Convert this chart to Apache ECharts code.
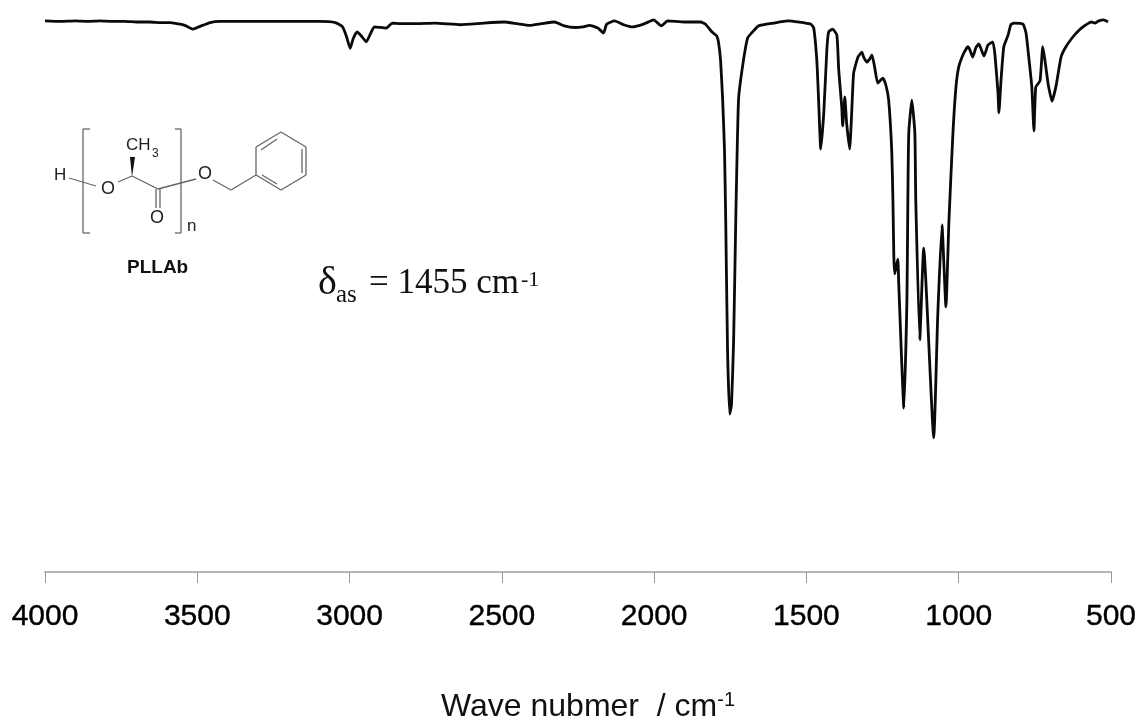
<!DOCTYPE html>
<html><head><meta charset="utf-8">
<style>html,body{margin:0;padding:0;background:#fff}#c{width:1141px;height:722px}</style>
<script src="https://cdn.jsdelivr.net/npm/echarts@6/dist/echarts.min.js"></script>
</head><body><div id="c"></div>
<script>
var axisTitle = 'Wave nubmer  / cm';
var wavenumber = [
4000,3950,3900,3860,3819,3780,3740,3700,3655,3620,
3589,3556,3537,3514,3491,3458,3425,3380,3300,3230,
3162,3100,3047,3024,3011,2998,2988,2975,2962,2945,
2932,2919,2879,2860,2833,2780,2720,2636,2560,2492,
2450,2409,2370,2327,2295,2261,2235,2212,2185,2166,
2156,2130,2100,2071,2035,2002,1976,1956,1900,1847,
1831,1815,1806,1795,1789,1782,1775,1769,1765,1759,1752,1746,1739,
1732,1723,1709,1693,1677,1657,1608,1561,1486,1476,
1466,1460,1453,1443,1433,1427,1414,1400,1394,1384,
1381,1374,1368,1358,1351,1345,1331,1318,1312,1302,
1292,1285,1276,1266,1249,1239,1230,1220,1216,1213,
1210,1200,1197,1180,1170,1167,1164,1154,1144,1141,
1128,1115,1082,1069,1055,1042,1032,1019,1009,1000,
983,970,963,954,944,934,917,904,888,881,
871,868,861,852,838,829,819,789,779,770,
760,753,747,733,724,717,707,704,694,681,
664,648,622,605,592,576,565,553,540,524,510];
var transmittance = [
100.2,100.1,100.2,100.1,100.2,100.1,100.1,100,100,99.9,
99.9,99.6,99.3,98.7,99.2,99.9,100.1,100.1,100.1,100.1,
100.1,100.1,99.9,99.2,97.5,95.2,97,98.2,97.5,96.4,
97.8,99.1,98.9,99.8,99.7,99.7,99.8,99.5,99.8,100,
99.7,99.4,99.7,100,99.3,99,99.1,99.4,98.9,98,
99.6,100.2,99.5,99.1,99.6,100.4,99.3,100.2,100,100,
99.6,98.5,98,97.5,96.4,93.1,85.8,76.7,64,40.4,28.7,30.4,42.2,
64,85.8,92.2,97.1,98.2,99.3,99.8,100.2,99.6,98.9,
93.1,85.8,76.9,83.5,94.9,98.2,98.7,97.6,91.3,84.5,
81.1,86.4,81.6,76.9,84,90.7,93.6,94.5,93.6,92.7,
93.3,94,91.8,88.9,89.8,88.5,85.8,76.7,67.6,57.3,
54.2,56.9,52.5,29.8,49.5,67.6,79.8,85.8,79.8,67.6,
42.2,58.9,24.4,46.4,63.1,48.2,64,79.8,88.2,91.8,
94.4,95.5,94.9,93.6,95.3,96,93.8,95.8,96.4,94,
87.1,83.5,89.5,95.5,97.6,99.5,99.8,99.6,98,93.6,
88.2,80.2,88.2,89.3,95.5,93.1,88.9,88,85.6,88.2,
93.6,95.5,97.5,98.5,99.1,99.7,100,99.8,100.2,100.4,100];

var grey = '#666';
function seg(a, b, c, d) {
  return { type: 'line', shape: { x1: a, y1: b, x2: c, y2: d }, style: { stroke: grey, lineWidth: 1.3 }, z: 5 };
}
function label(x, y, text, size, family, extra) {
  return { type: 'text', x: x, y: y, z: 5, style: Object.assign({ text: text, fill: '#222', fontSize: size, fontFamily: family, verticalAlign: 'middle', align: 'left' }, extra || {}) };
}
var sans = '"Liberation Sans", Arial, sans-serif';
var serif = '"Liberation Serif", "Times New Roman", serif';
var graphics = [
  seg(90,129,83,129), seg(83,129,83,233), seg(83,233,90,233),
  seg(175,129,181,129), seg(181,129,181,233), seg(181,233,175,233),
  seg(69,178,96,186), seg(118,182,132,176), seg(132,176,158,189),
  seg(156,189,156,208), seg(160,189,160,208),
  seg(158,189,196,179), seg(213,180,231,190), seg(231,190,256,175),
  seg(256,175,256,147), seg(256,147,281,132), seg(281,132,306,147),
  seg(306,147,306,175), seg(306,175,281,190), seg(281,190,256,175),
  seg(261,150,277,139), seg(302,149,302,173), seg(262,175,277,184),
  { type: 'polygon', z: 5, shape: { points: [[132,177],[130,157],[135,157]] }, style: { fill: '#111' } },
  label(54,175,'H',17,sans),
  label(101,189,'O',18,sans),
  label(150,218,'O',18,sans),
  label(198,174,'O',18,sans),
  label(126,145,'CH',17,sans),
  label(152,154,'3',12,sans),
  label(187,226,'n',17,sans),
  label(127,268,'PLLAb',19,sans,{ fontWeight: 'bold', fill: '#111' }),
  label(318,283,'\u03b4',40,serif,{ fill: '#111' }),
  label(336,295,'as',25,serif,{ fill: '#111' }),
  label(369,284,'= 1455 cm',35,serif,{ fill: '#111' }),
  label(521,280,'-1',22,serif,{ fill: '#111' })
];

var chart = echarts.init(document.getElementById('c'), null, { renderer: 'canvas' });
chart.setOption({
  animation: false,
  backgroundColor: '#fff',
  grid: { left: 45, right: 30, top: 0, bottom: 150, containLabel: false, outerBoundsMode: 'none' },
  xAxis: {
    type: 'value', inverse: true, min: 500, max: 4000, interval: 500,
    splitLine: { show: false }, minorTick: { show: false },
    axisLine: { show: true, onZero: false, lineStyle: { color: '#b5b5b5', width: 2 } },
    axisTick: { show: true, length: 11, lineStyle: { color: '#999', width: 1 } },
    axisLabel: { show: true, margin: 30, fontSize: 30, color: '#000', fontFamily: sans, showMinLabel: true, showMaxLabel: true,
      textBorderColor: '#000', textBorderWidth: 0.4, formatter: function (v) { return String(v); } },
    name: '{t|' + axisTitle + '}{s|-1}', nameLocation: 'middle', nameGap: 118,
    nameTextStyle: { rich: {
      t: { fontSize: 32, color: '#111', fontFamily: sans, padding: [0,0,0,20] },
      s: { fontSize: 20, color: '#111', fontFamily: sans, verticalAlign: 'top', padding: [0,0,14,0] }
    } }
  },
  yAxis: { type: 'value', min: 0, max: 104, show: false },
  graphic: graphics,
  series: [{
    type: 'line', showSymbol: false, smooth: 0.15, clip: false,
    lineStyle: { color: '#0a0a0a', width: 2.8, join: 'round' },
    data: wavenumber.map(function (w, i) { return [w, transmittance[i]]; })
  }]
});
</script></body></html>
